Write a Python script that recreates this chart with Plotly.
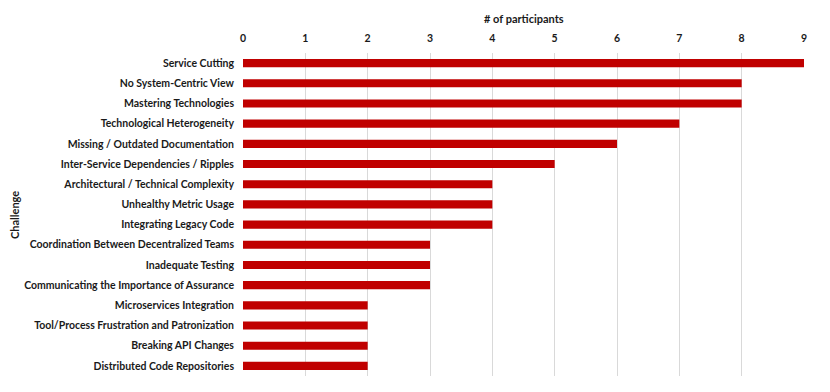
import plotly.graph_objects as go

challenges = [
    "Service Cutting",
    "No System-Centric View",
    "Mastering Technologies",
    "Technological Heterogeneity",
    "Missing / Outdated Documentation",
    "Inter-Service Dependencies / Ripples",
    "Architectural / Technical Complexity",
    "Unhealthy Metric Usage",
    "Integrating Legacy Code",
    "Coordination Between Decentralized Teams",
    "Inadequate Testing",
    "Communicating the Importance of Assurance",
    "Microservices Integration",
    "Tool/Process Frustration and Patronization",
    "Breaking API Changes",
    "Distributed Code Repositories",
]
participants = [9, 8, 8, 7, 6, 5, 4, 4, 4, 3, 3, 3, 2, 2, 2, 2]
tick_values = [0, 1, 2, 3, 4, 5, 6, 7, 8, 9]

FONT = "Lato"
TXT = "#1A1A1A"

fig = go.Figure(go.Bar(
    x=participants,
    y=challenges,
    orientation="h",
    marker=dict(color="#C00000", line=dict(width=0)),
    width=0.4,
))

W, H = 830, 392
L, R, T, B = 243, 26, 53, 16
pw = W - L - R
ph = H - T - B

fig.update_layout(
    width=W, height=H,
    margin=dict(l=L, r=R, t=T, b=B, autoexpand=False),
    plot_bgcolor="white",
    paper_bgcolor="white",
    showlegend=False,
    font=dict(family=FONT, size=10.5, color=TXT),
    xaxis=dict(
        side="top",
        range=[0, 9],
        tickvals=tick_values,
        ticktext=[f"<b>{v}</b>" for v in tick_values],
        showgrid=True,
        gridcolor="#D9D9D9",
        gridwidth=1,
        zeroline=False,
        showline=False,
        ticks="",
        automargin=False,
        ticklabelstandoff=8,
        tickfont=dict(family=FONT, size=10.5, color=TXT),
        fixedrange=True,
    ),
    yaxis=dict(
        autorange="reversed",
        tickvals=challenges,
        ticktext=[f"<b>{c}</b>" for c in challenges],
        showgrid=False,
        zeroline=False,
        showline=False,
        ticks="",
        automargin=False,
        ticklabelstandoff=8,
        tickfont=dict(family=FONT, size=10.5, color=TXT),
        fixedrange=True,
    ),
    annotations=[
        dict(text="<b># of participants</b>", xref="paper", yref="paper",
             x=0.5, y=1 + (T - 18) / ph, xanchor="center", yanchor="middle",
             showarrow=False, font=dict(family=FONT, size=11, color=TXT)),
        dict(text="<b>Challenge</b>", xref="paper", yref="paper",
             x=(14 - L) / pw, y=(H - B - 215) / ph, xanchor="center", yanchor="middle",
             textangle=-90, showarrow=False, font=dict(family=FONT, size=11, color=TXT)),
    ],
)

fig.write_html(
    "out.html",
    config={"displayModeBar": False},
    post_script="document.body.style.margin='0px';document.body.style.overflow='hidden';",
)
